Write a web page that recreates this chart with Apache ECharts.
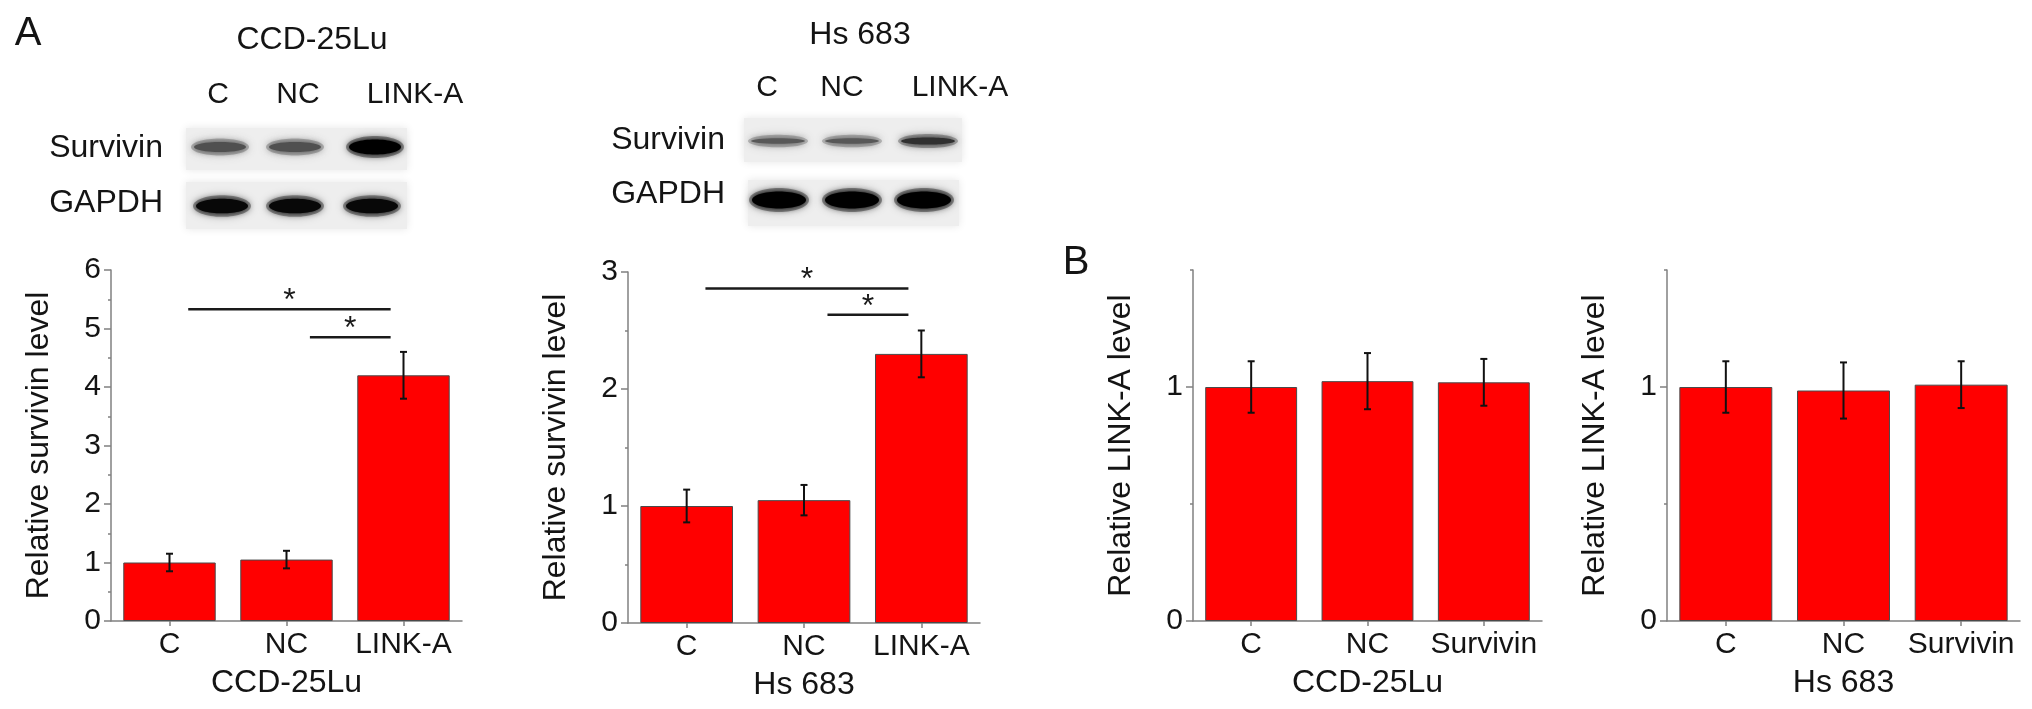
<!DOCTYPE html>
<html>
<head>
<meta charset="utf-8">
<script src="https://cdn.jsdelivr.net/npm/echarts@6/dist/echarts.min.js"></script>
<style>
html,body{margin:0;padding:0;background:#fff;}
#chart{width:2032px;height:709px;}
</style>
</head>
<body>
<div id="chart"></div>
<script>
// ---------- data ----------
const catsA = ['C', 'NC', 'LINK-A'];
const catsB = ['C', 'NC', 'Survivin'];

const survivinCCD = [1.0, 1.05, 4.2];
const survivinCCDErr = [0.15, 0.15, 0.4];
const survivinHs = [1.0, 1.05, 2.3];
const survivinHsErr = [0.14, 0.13, 0.2];

const linkaCCD = [1.0, 1.025, 1.02];
const linkaCCDErr = [0.11, 0.12, 0.1];
const linkaHs = [1.0, 0.985, 1.01];
const linkaHsErr = [0.11, 0.12, 0.1];

// significance brackets: [from category, to category, y value]
const sigCCD = [['C', 'LINK-A', 5.33], ['NC', 'LINK-A', 4.85]];
const sigHs = [['C', 'LINK-A', 2.86], ['NC', 'LINK-A', 2.635]];

// western blot band darkness (0..1) per lane
const blotLanes = ['C', 'NC', 'LINK-A'];
const blotSurvivinCCD = [0.5, 0.5, 1.0];
const blotGapdhCCD = [0.95, 0.95, 0.95];
const blotSurvivinHs = [0.45, 0.45, 0.7];
const blotGapdhHs = [1.0, 1.0, 1.0];

// ---------- styling ----------
const FONT = "'Liberation Sans', Arial, Helvetica, sans-serif";
const TXT = '#141414';
const AXIS = '#808080';

const grids = [
  {left: 111, top: 270, width: 351, height: 351},
  {left: 628, top: 272, width: 352, height: 351},
  {left: 1193, top: 270, width: 349, height: 351},
  {left: 1667, top: 270, width: 353, height: 351}
];

function xAxisFor(i, cats, name) {
  return {
    type: 'category', gridIndex: i, data: cats,
    name: name, nameLocation: 'middle', nameGap: 46,
    nameTextStyle: {fontFamily: FONT, fontSize: 32, color: TXT},
    axisLine: {show: true, lineStyle: {color: AXIS, width: 1.5}},
    axisTick: {show: true, alignWithLabel: true, length: 5, lineStyle: {color: AXIS, width: 1.5}},
    axisLabel: {fontFamily: FONT, fontSize: 30, color: TXT, margin: 9, interval: 0},
    splitLine: {show: false}
  };
}

function yAxisMain(i, max, interval, name, opts) {
  const ax = {
    type: 'value', gridIndex: i, min: 0, max: max, interval: interval, position: 'left',
    name: name, nameLocation: 'middle', nameGap: 56, nameRotate: 90,
    nameTextStyle: {fontFamily: FONT, fontSize: 32, color: TXT},
    axisLine: {show: true, lineStyle: {color: AXIS, width: 1.5}},
    axisTick: {show: true, length: 7, lineStyle: {color: AXIS, width: 1.5}},
    axisLabel: {fontFamily: FONT, fontSize: 30, color: TXT, margin: 10},
    splitLine: {show: false}
  };
  return Object.assign(ax, opts || {});
}

const yAxes = [
  yAxisMain(0, 6, 1, 'Relative survivin level', {
    minorTick: {show: true, splitNumber: 2, length: 3, lineStyle: {color: AXIS, width: 1.5}}
  }),
  yAxisMain(1, 3, 1, 'Relative survivin level', {
    minorTick: {show: true, splitNumber: 2, length: 3, lineStyle: {color: AXIS, width: 1.5}}
  }),
  yAxisMain(2, 1.5, 0.5, 'Relative LINK-A level', {
    axisTick: {show: true, length: 7, customValues: [0, 1], lineStyle: {color: AXIS, width: 1.5}},
    axisLabel: {fontFamily: FONT, fontSize: 30, color: TXT, margin: 10, customValues: [0, 1]}
  }),
  yAxisMain(3, 1.5, 0.5, 'Relative LINK-A level', {
    axisTick: {show: true, length: 7, customValues: [0, 1], lineStyle: {color: AXIS, width: 1.5}},
    axisLabel: {fontFamily: FONT, fontSize: 30, color: TXT, margin: 10, customValues: [0, 1]}
  }),
  // overlay axes for the short half-step ticks on panels B
  {type: 'value', gridIndex: 2, position: 'left', offset: 0, min: 0, max: 1.5, interval: 0.5, axisLine: {show: false},
   axisTick: {show: true, length: 3, lineStyle: {color: AXIS, width: 1.5}}, axisLabel: {show: false}, splitLine: {show: false}},
  {type: 'value', gridIndex: 3, position: 'left', offset: 0, min: 0, max: 1.5, interval: 0.5, axisLine: {show: false},
   axisTick: {show: true, length: 3, lineStyle: {color: AXIS, width: 1.5}}, axisLabel: {show: false}, splitLine: {show: false}}
];

const xAxes = [
  xAxisFor(0, catsA, 'CCD-25Lu'),
  xAxisFor(1, catsA, 'Hs 683'),
  xAxisFor(2, catsB, 'CCD-25Lu'),
  xAxisFor(3, catsB, 'Hs 683')
];

function errRender(params, api) {
  const x = api.value(0), v = api.value(1), e = api.value(2);
  const top = api.coord([x, v + e]);
  const bot = api.coord([x, v - e]);
  const cw = 3.5;
  const st = {stroke: '#111', lineWidth: 2};
  return {type: 'group', children: [
    {type: 'line', shape: {x1: top[0], y1: top[1], x2: bot[0], y2: bot[1]}, style: st},
    {type: 'line', shape: {x1: top[0] - cw, y1: top[1], x2: top[0] + cw, y2: top[1]}, style: st},
    {type: 'line', shape: {x1: bot[0] - cw, y1: bot[1], x2: bot[0] + cw, y2: bot[1]}, style: st}
  ]};
}

const sigStartOffset = [0.16, 0.2];
const sigEndOffset = -0.11;
function sigRender(params, api) {
  const i = params.dataIndex;
  const a = api.value(0), b = api.value(1), y = api.value(2);
  const band = api.size([1, 0])[0];
  const p1 = api.coord([a, y]);
  const p2 = api.coord([b, y]);
  const x1 = p1[0] + sigStartOffset[i] * band;
  const x2 = p2[0] + sigEndOffset * band;
  return {type: 'group', children: [
    {type: 'line', shape: {x1: x1, y1: p1[1], x2: x2, y2: p1[1]}, style: {stroke: '#1a1a1a', lineWidth: 2.5}},
    {type: 'text', style: {text: '*', x: (x1 + x2) / 2, y: p1[1] - 8, align: 'center', verticalAlign: 'middle',
      fontFamily: FONT, fontSize: 32, fill: '#1a1a1a'}}
  ]};
}

function barSeries(i, vals, yIdx) {
  return {
    type: 'bar', xAxisIndex: i, yAxisIndex: yIdx, data: vals, barWidth: '79%',
    itemStyle: {color: '#ff0000', borderColor: '#4a4a4a', borderWidth: 1},
    silent: true, z: 2
  };
}
function errSeries(i, vals, errs, yIdx) {
  return {
    type: 'custom', xAxisIndex: i, yAxisIndex: yIdx, renderItem: errRender,
    data: vals.map((v, k) => [k, v, errs[k]]), encode: {x: 0, y: 1}, z: 5, silent: true
  };
}
function sigSeries(i, cats, sig, yIdx) {
  return {
    type: 'custom', xAxisIndex: i, yAxisIndex: yIdx, renderItem: sigRender,
    data: sig.map(s => [cats.indexOf(s[0]), cats.indexOf(s[1]), s[2]]),
    encode: {x: [0, 1], y: 2}, z: 6, silent: true
  };
}

const series = [
  barSeries(0, survivinCCD, 0), errSeries(0, survivinCCD, survivinCCDErr, 0), sigSeries(0, catsA, sigCCD, 0),
  barSeries(1, survivinHs, 1), errSeries(1, survivinHs, survivinHsErr, 1), sigSeries(1, catsA, sigHs, 1),
  barSeries(2, linkaCCD, 2), errSeries(2, linkaCCD, linkaCCDErr, 2),
  barSeries(3, linkaHs, 3), errSeries(3, linkaHs, linkaHsErr, 3)
];

// ---------- western blot drawings ----------
function txt(text, x, y, size, align) {
  return {type: 'text', z: 10, style: {text: text, x: x, y: y, align: align || 'center', verticalAlign: 'middle',
    fontFamily: FONT, fontSize: size, fill: TXT}};
}
function strip(x, y, w, h) {
  return {type: 'rect', z: 1, shape: {x: x, y: y, width: w, height: h},
    style: {fill: '#eeeeee', shadowBlur: 8, shadowColor: 'rgba(0,0,0,0.10)'}};
}
function bands(centers, cy, rx, ryMin, ryMax, darkness) {
  const out = [];
  darkness.forEach((d, k) => {
    const g = Math.round(160 * (1 - d));
    const ry = ryMin + (ryMax - ryMin) * d;
    // soft halo then core
    out.push({type: 'ellipse', z: 2, shape: {cx: centers[k], cy: cy, rx: rx, ry: ry + 2},
      style: {fill: 'rgba(' + g + ',' + g + ',' + g + ',0.35)', shadowBlur: 10, shadowColor: 'rgba(' + g + ',' + g + ',' + g + ',0.6)'}});
    out.push({type: 'ellipse', z: 3, shape: {cx: centers[k], cy: cy, rx: rx - 3, ry: Math.max(ry - 1.5, 2)},
      style: {fill: 'rgb(' + g + ',' + g + ',' + g + ')', shadowBlur: 6, shadowColor: 'rgb(' + g + ',' + g + ',' + g + ')'}});
  });
  return out;
}

const graphics = [
  txt('A', 28, 34, 40),
  txt('B', 1076, 263, 40),
  // panel A1 blot
  txt('CCD-25Lu', 312, 40, 32),
  txt(blotLanes[0], 218, 95, 30), txt(blotLanes[1], 298, 95, 30), txt(blotLanes[2], 415, 95, 30),
  txt('Survivin', 163, 148, 32, 'right'),
  txt('GAPDH', 163, 203, 32, 'right'),
  strip(186, 128, 221, 42),
  strip(186, 182, 221, 47),
  ...bands([220, 295, 375], 147, 29, 4, 9, blotSurvivinCCD),
  ...bands([222, 295, 372], 206, 29, 6, 9, blotGapdhCCD),
  // panel A2 blot
  txt('Hs 683', 860, 35, 32),
  txt(blotLanes[0], 767, 88, 30), txt(blotLanes[1], 842, 88, 30), txt(blotLanes[2], 960, 88, 30),
  txt('Survivin', 725, 140, 32, 'right'),
  txt('GAPDH', 725, 194, 32, 'right'),
  strip(744, 118, 218, 44),
  strip(748, 180, 211, 46),
  ...bands([778, 852, 928], 141, 30, 3, 6, blotSurvivinHs),
  ...bands([779, 852, 924], 200, 30, 6, 10, blotGapdhHs)
];

const chart = echarts.init(document.getElementById('chart'), null, {renderer: 'canvas'});
chart.setOption({
  backgroundColor: '#ffffff',
  animation: false,
  grid: grids.map(g => Object.assign({containLabel: false}, g)),
  xAxis: xAxes,
  yAxis: yAxes,
  series: series,
  graphic: graphics
});
</script>
</body>
</html>
